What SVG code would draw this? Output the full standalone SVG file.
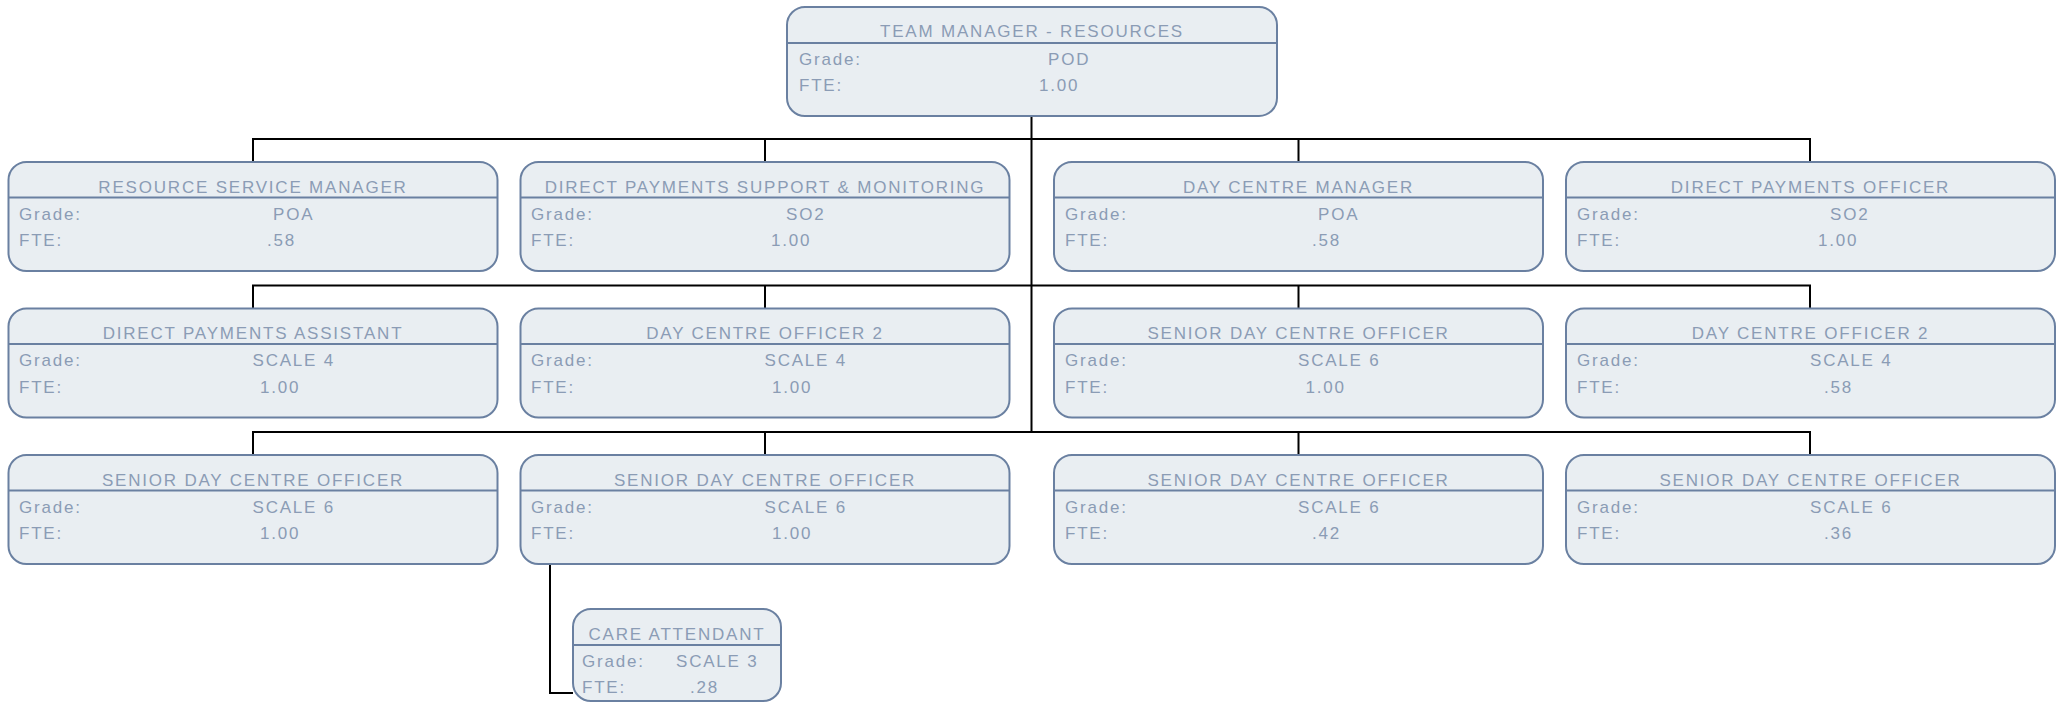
<svg xmlns="http://www.w3.org/2000/svg" width="2063" height="703" viewBox="0 0 2063 703">
<style>
.box{fill:#e9eef2;stroke:#6a80a1;stroke-width:2}
.div{stroke:#6a80a1;stroke-width:2}
.t{font-family:"Liberation Sans",Arial,sans-serif;font-size:17px;fill:#8b9cb5;letter-spacing:1.8px}
.c{text-anchor:middle}
.con{fill:none;stroke:#000;stroke-width:2}
</style>
<rect width="2063" height="703" fill="#fff"/>
<g id="connectors" class="con">
<path d="M1031.5 116V432"/>
<path d="M253 162V139H1810V162M765 139V162M1298.5 139V162"/>
<path d="M253 308.5V285.5H1810V308.5M765 285.5V308.5M1298.5 285.5V308.5"/>
<path d="M253 455V432H1810V455M765 432V455M1298.5 432V455"/>
<path d="M550 564V693H573"/>
</g>
<g id="n0"><rect class="box" x="787" y="7" width="490" height="109" rx="18"/><line class="div" x1="787" y1="43" x2="1277" y2="43"/>
<text class="t c" x="1032" y="37">TEAM MANAGER - RESOURCES</text><text class="t" x="799" y="64.5">Grade:</text><text class="t" x="1048" y="64.5">POD</text><text class="t" x="799" y="91">FTE:</text><text class="t" x="1039" y="91">1.00</text></g>

<g id="n1"><rect class="box" x="8.5" y="162" width="489" height="109" rx="18"/><line class="div" x1="8.5" y1="197.5" x2="497.5" y2="197.5"/>
<text class="t c" x="253" y="192.5">RESOURCE SERVICE MANAGER</text><text class="t" x="19" y="219.5">Grade:</text><text class="t" x="273" y="219.5">POA</text><text class="t" x="19" y="246">FTE:</text><text class="t" x="267" y="246">.58</text></g>
<g id="n2"><rect class="box" x="520.5" y="162" width="489" height="109" rx="18"/><line class="div" x1="520.5" y1="197.5" x2="1009.5" y2="197.5"/>
<text class="t c" x="765" y="192.5">DIRECT PAYMENTS SUPPORT &amp; MONITORING</text><text class="t" x="531" y="219.5">Grade:</text><text class="t" x="786" y="219.5">SO2</text><text class="t" x="531" y="246">FTE:</text><text class="t" x="771" y="246">1.00</text></g>
<g id="n3"><rect class="box" x="1054" y="162" width="489" height="109" rx="18"/><line class="div" x1="1054" y1="197.5" x2="1543" y2="197.5"/>
<text class="t c" x="1298.5" y="192.5">DAY CENTRE MANAGER</text><text class="t" x="1065" y="219.5">Grade:</text><text class="t" x="1318" y="219.5">POA</text><text class="t" x="1065" y="246">FTE:</text><text class="t" x="1312" y="246">.58</text></g>
<g id="n4"><rect class="box" x="1566" y="162" width="489" height="109" rx="18"/><line class="div" x1="1566" y1="197.5" x2="2055" y2="197.5"/>
<text class="t c" x="1810.5" y="192.5">DIRECT PAYMENTS OFFICER</text><text class="t" x="1577" y="219.5">Grade:</text><text class="t" x="1830" y="219.5">SO2</text><text class="t" x="1577" y="246">FTE:</text><text class="t" x="1818" y="246">1.00</text></g>

<g id="n5"><rect class="box" x="8.5" y="308.5" width="489" height="109" rx="18"/><line class="div" x1="8.5" y1="344" x2="497.5" y2="344"/>
<text class="t c" x="253" y="339">DIRECT PAYMENTS ASSISTANT</text><text class="t" x="19" y="366">Grade:</text><text class="t" x="252.5" y="366">SCALE 4</text><text class="t" x="19" y="392.5">FTE:</text><text class="t" x="260" y="392.5">1.00</text></g>
<g id="n6"><rect class="box" x="520.5" y="308.5" width="489" height="109" rx="18"/><line class="div" x1="520.5" y1="344" x2="1009.5" y2="344"/>
<text class="t c" x="765" y="339">DAY CENTRE OFFICER 2</text><text class="t" x="531" y="366">Grade:</text><text class="t" x="764.5" y="366">SCALE 4</text><text class="t" x="531" y="392.5">FTE:</text><text class="t" x="772" y="392.5">1.00</text></g>
<g id="n7"><rect class="box" x="1054" y="308.5" width="489" height="109" rx="18"/><line class="div" x1="1054" y1="344" x2="1543" y2="344"/>
<text class="t c" x="1298.5" y="339">SENIOR DAY CENTRE OFFICER</text><text class="t" x="1065" y="366">Grade:</text><text class="t" x="1298" y="366">SCALE 6</text><text class="t" x="1065" y="392.5">FTE:</text><text class="t" x="1305.5" y="392.5">1.00</text></g>
<g id="n8"><rect class="box" x="1566" y="308.5" width="489" height="109" rx="18"/><line class="div" x1="1566" y1="344" x2="2055" y2="344"/>
<text class="t c" x="1810.5" y="339">DAY CENTRE OFFICER 2</text><text class="t" x="1577" y="366">Grade:</text><text class="t" x="1810" y="366">SCALE 4</text><text class="t" x="1577" y="392.5">FTE:</text><text class="t" x="1824" y="392.5">.58</text></g>

<g id="n9"><rect class="box" x="8.5" y="455" width="489" height="109" rx="18"/><line class="div" x1="8.5" y1="490.5" x2="497.5" y2="490.5"/>
<text class="t c" x="253" y="485.5">SENIOR DAY CENTRE OFFICER</text><text class="t" x="19" y="512.5">Grade:</text><text class="t" x="252.5" y="512.5">SCALE 6</text><text class="t" x="19" y="539">FTE:</text><text class="t" x="260" y="539">1.00</text></g>
<g id="n10"><rect class="box" x="520.5" y="455" width="489" height="109" rx="18"/><line class="div" x1="520.5" y1="490.5" x2="1009.5" y2="490.5"/>
<text class="t c" x="765" y="485.5">SENIOR DAY CENTRE OFFICER</text><text class="t" x="531" y="512.5">Grade:</text><text class="t" x="764.5" y="512.5">SCALE 6</text><text class="t" x="531" y="539">FTE:</text><text class="t" x="772" y="539">1.00</text></g>
<g id="n11"><rect class="box" x="1054" y="455" width="489" height="109" rx="18"/><line class="div" x1="1054" y1="490.5" x2="1543" y2="490.5"/>
<text class="t c" x="1298.5" y="485.5">SENIOR DAY CENTRE OFFICER</text><text class="t" x="1065" y="512.5">Grade:</text><text class="t" x="1298" y="512.5">SCALE 6</text><text class="t" x="1065" y="539">FTE:</text><text class="t" x="1312" y="539">.42</text></g>
<g id="n12"><rect class="box" x="1566" y="455" width="489" height="109" rx="18"/><line class="div" x1="1566" y1="490.5" x2="2055" y2="490.5"/>
<text class="t c" x="1810.5" y="485.5">SENIOR DAY CENTRE OFFICER</text><text class="t" x="1577" y="512.5">Grade:</text><text class="t" x="1810" y="512.5">SCALE 6</text><text class="t" x="1577" y="539">FTE:</text><text class="t" x="1824" y="539">.36</text></g>

<g id="n13"><rect class="box" x="573" y="609" width="208" height="92" rx="18"/><line class="div" x1="573" y1="645" x2="781" y2="645"/>
<text class="t c" x="677" y="640">CARE ATTENDANT</text><text class="t" x="582" y="666.5">Grade:</text><text class="t" x="676" y="666.5">SCALE 3</text><text class="t" x="582" y="693">FTE:</text><text class="t" x="690" y="693">.28</text></g>
</svg>
